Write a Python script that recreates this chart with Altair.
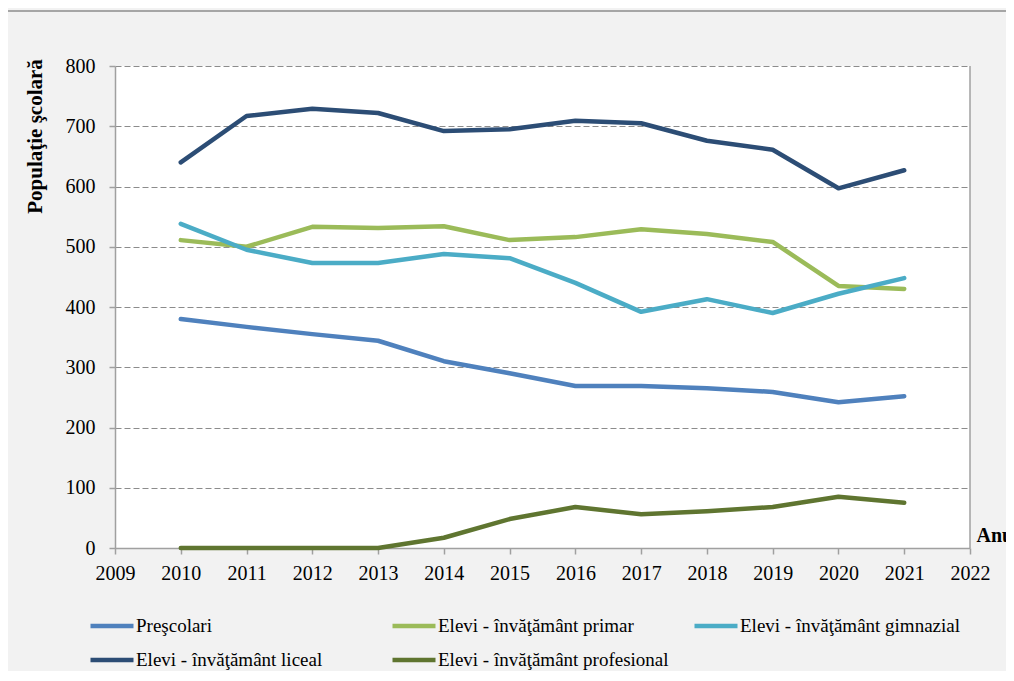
import altair as alt
import pandas as pd

years = list(range(2010, 2022))
series_names = [
    "Preşcolari",
    "Elevi - învăţământ primar",
    "Elevi - învăţământ gimnazial",
    "Elevi - învăţământ liceal",
    "Elevi - învăţământ profesional",
]
prescolari = [380, 367, 355, 344, 310, 290, 269, 269, 265, 259, 242, 252]
primar = [511, 500, 533, 531, 534, 511, 516, 529, 521, 508, 435, 430]
gimnazial = [538, 495, 473, 473, 488, 481, 440, 392, 413, 390, 422, 448]
liceal = [640, 717, 729, 722, 692, 695, 709, 705, 676, 661, 597, 627]
profesional = [0, 0, 0, 0, 17, 48, 68, 56, 61, 68, 85, 75]
colors = ["#4f81bd", "#9bbb59", "#4bacc6", "#2c4d75", "#5f7530"]
x_ticks = list(range(2009, 2023))
y_ticks = list(range(0, 801, 100))

rows = []
for name, vals in zip(series_names, [prescolari, primar, gimnazial, liceal, profesional]):
    for yr, v in zip(years, vals):
        rows.append({"An": yr, "Valoare": v, "Serie": name})
df = pd.DataFrame(rows)

FONT = "Liberation Serif"

xscale = alt.Scale(domain=[2009, 2022], nice=False, zero=False)
yscale = alt.Scale(domain=[0, 800], nice=False)

lines = alt.Chart(df).mark_line(strokeWidth=4.5, strokeCap="round", strokeJoin="round").encode(
    x=alt.X("An:Q", scale=xscale, axis=alt.Axis(
        values=x_ticks, format="d", title="Anul", grid=False,
        tickSize=6, labelPadding=9, labelFlush=False, titleX=861, titleY=-7,
        titleAlign="left", titleBaseline="alphabetic", titleAngle=0,
    )),
    y=alt.Y("Valoare:Q", scale=yscale, axis=alt.Axis(
        values=y_ticks, title="Populaţie şcolară", grid=True,
        gridDash=[6, 3], gridColor="#8c8c8c", gridWidth=1,
        tickSize=6, labelPadding=14, titleAngle=270, titleFontSize=21,
        titleX=-80, titleY=70, titleAlign="center", titleBaseline="middle",
    )),
    color=alt.Color("Serie:N", scale=alt.Scale(domain=series_names, range=colors), legend=alt.Legend(
        title=None, orient="none", legendX=-27, legendY=536, columns=3,
        direction="horizontal",
        gridAlign="all", columnPadding=16, rowPadding=-7,
        symbolType="stroke", symbolSize=1849, symbolStrokeWidth=4.5,
        labelFont=FONT, labelFontSize=19, labelOffset=0, labelColor="black",
        padding=0, labelLimit=400,
    )),
)

right_border = alt.Chart(pd.DataFrame({"x": [2022]})).mark_rule(color="#a0a0a0", strokeWidth=1.5).encode(
    x=alt.X("x:Q", scale=xscale), y=alt.value(0), y2=alt.value(482)
)

frame_top = alt.Chart(pd.DataFrame({"k": [0]})).mark_rule(color="#a6a6a6", strokeWidth=2).encode(
    x=alt.value(-108), x2=alt.value(900), y=alt.value(-55)
)

chart = alt.layer(right_border, lines, frame_top).properties(
    width=855, height=482,
    autosize=alt.AutoSizeParams(type="none"),
    padding={"left": 107, "top": 58, "right": 36, "bottom": 123},
    background="#f2f2f2",
).configure_view(strokeWidth=0, fill="white").configure_axis(
    labelFont=FONT, labelFontSize=20, labelColor="black",
    titleFont=FONT, titleFontSize=20, titleFontWeight="bold", titleColor="black",
    domainColor="#a0a0a0", domainWidth=1.5, tickColor="#a0a0a0", tickWidth=1.5,
)

chart.save("out.html", embed_options={"renderer": "svg", "actions": False})
